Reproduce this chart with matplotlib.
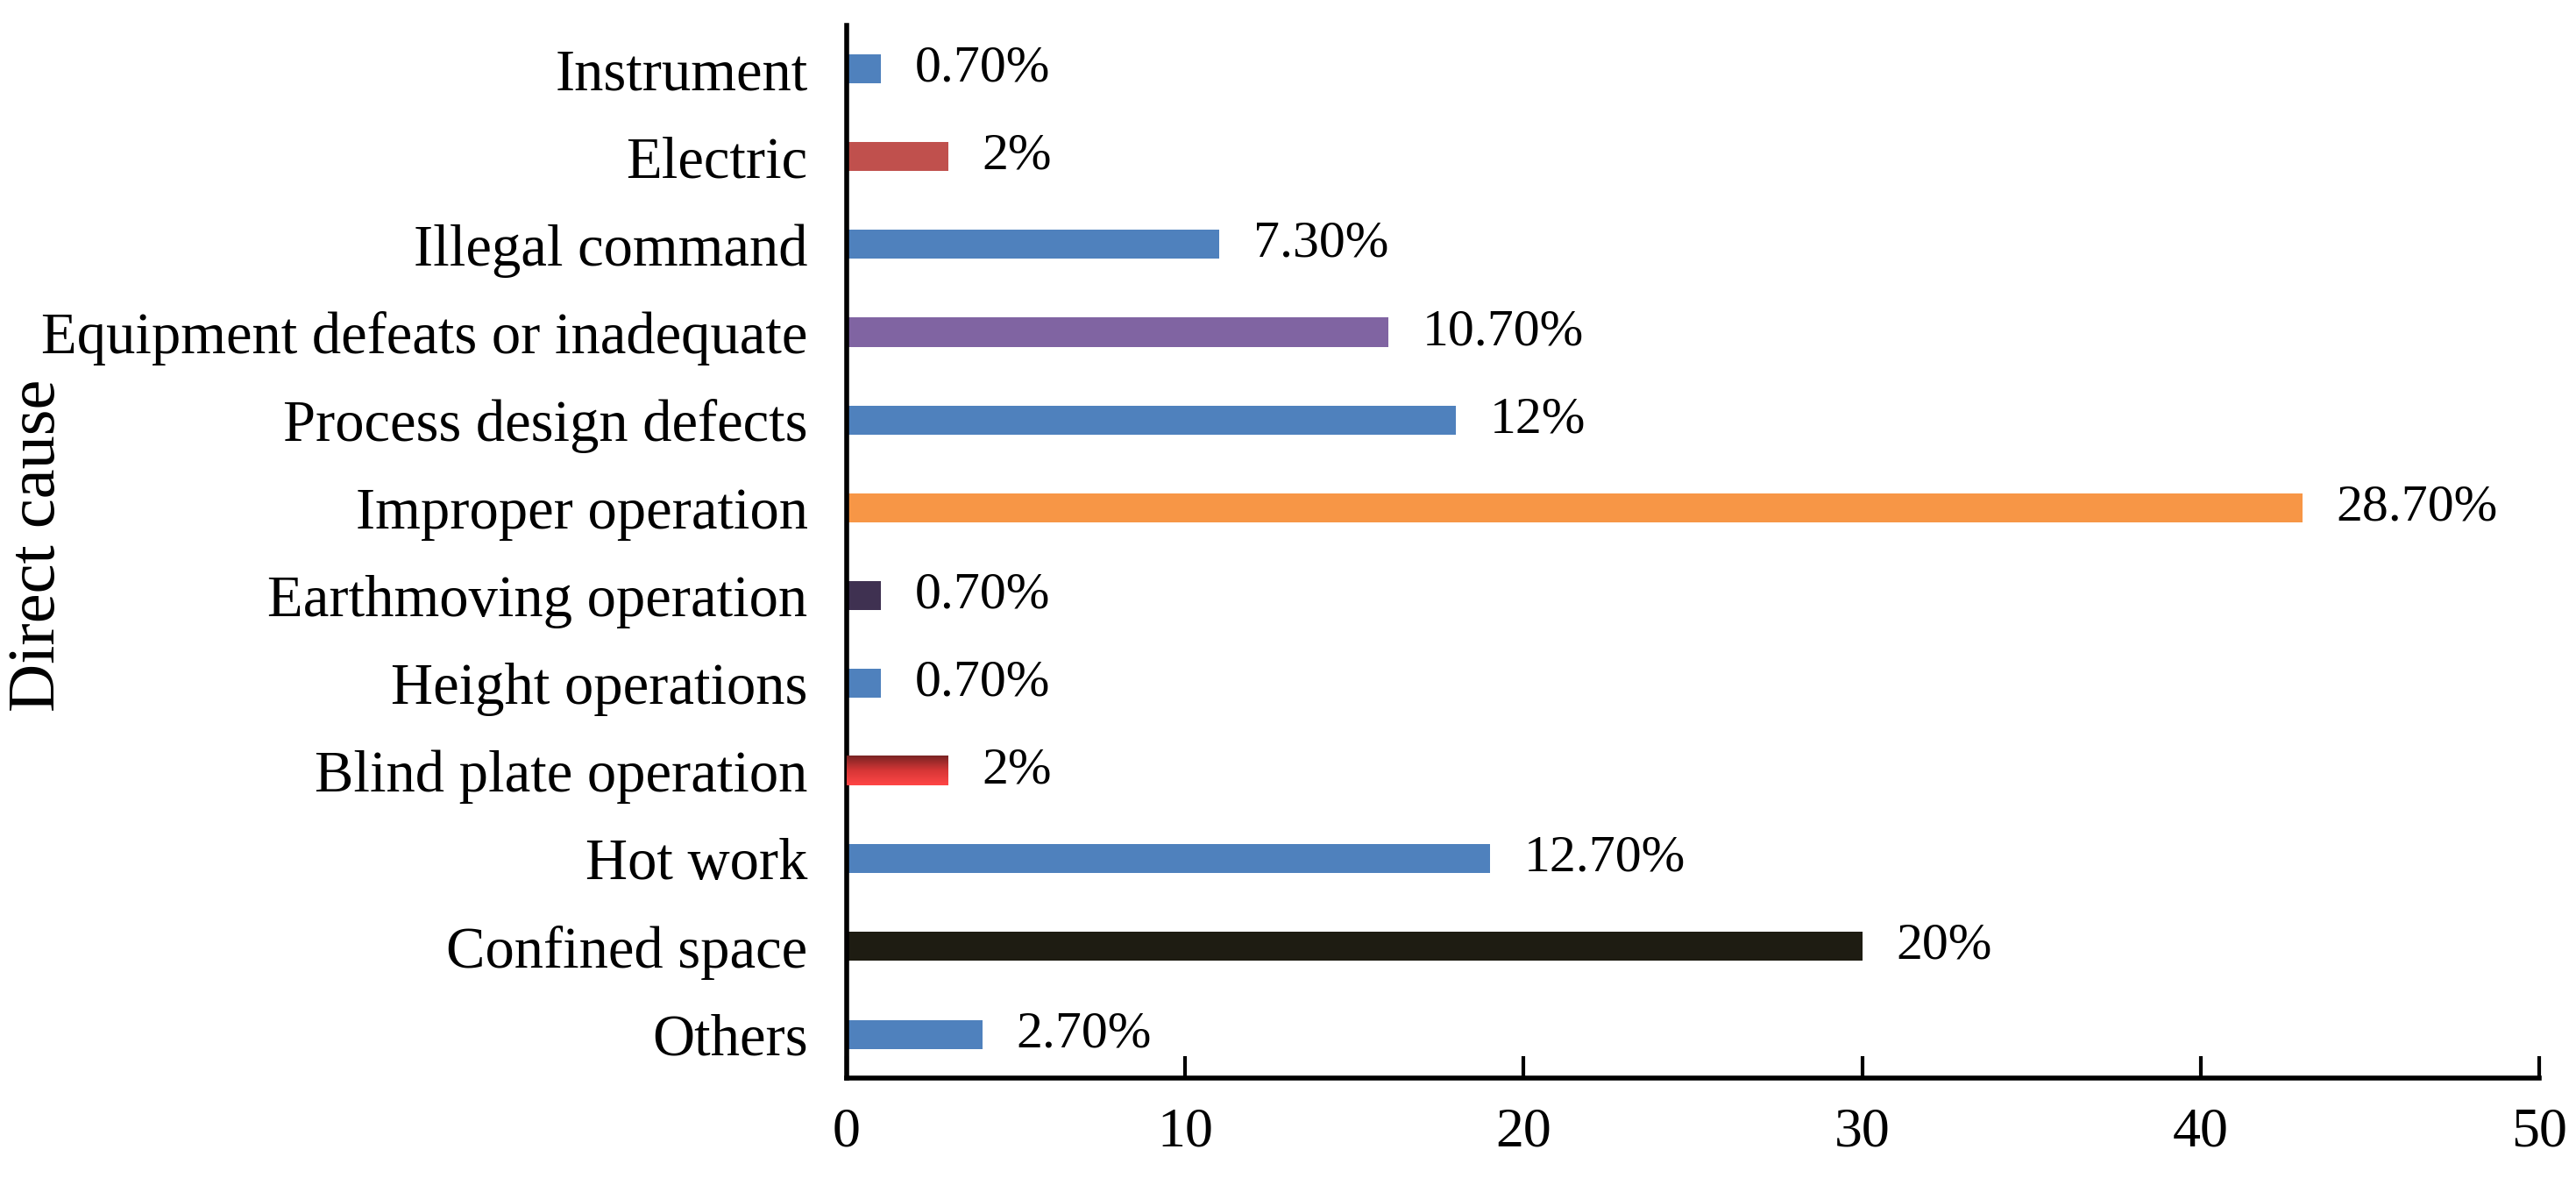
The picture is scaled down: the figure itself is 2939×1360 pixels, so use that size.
import matplotlib
matplotlib.use('Agg')
import matplotlib.pyplot as plt
import numpy as np
from matplotlib.colors import LinearSegmentedColormap

causes = ['Instrument', 'Electric', 'Illegal command', 'Equipment defeats or inadequate',
          'Process design defects', 'Improper operation', 'Earthmoving operation',
          'Height operations', 'Blind plate operation', 'Hot work', 'Confined space', 'Others']
counts = [1, 3, 11, 16, 18, 43, 1, 1, 3, 19, 30, 4]
pct_labels = ['0.70%', '2%', '7.30%', '10.70%', '12%', '28.70%', '0.70%', '0.70%',
              '2%', '12.70%', '20%', '2.70%']
colors = ['#4F81BD', '#C0504D', '#4F81BD', '#8064A2', '#4F81BD', '#F79646', '#3F3151',
          '#4F81BD', '#E8383D', '#4F81BD', '#1E1C12', '#4F81BD']
xticks = [0, 10, 20, 30, 40, 50]

plt.rcParams['font.family'] = ['Liberation Serif', 'DejaVu Serif']

fig = plt.figure(figsize=(29.39, 13.6), dpi=100)
ax = fig.add_axes([0.3287, 0.0955, 0.6570, 0.8835])

ypos = np.arange(len(causes))[::-1]
bars = ax.barh(ypos, counts, height=0.33, color=colors, zorder=2)

# gradient fill for the blind plate bar (dark on top, bright red below)
grad = LinearSegmentedColormap.from_list('g', ['#7A2424', '#D63636', '#FF4646'])
b = bars[8]
bx, by = b.get_x(), b.get_y()
bw, bh = b.get_width(), b.get_height()
b.set_visible(False)
ax.imshow(np.linspace(0, 1, 100).reshape(-1, 1), cmap=grad, aspect='auto',
          extent=(bx, bx + bw, by, by + bh), origin='upper', zorder=3)

for bar, lab in zip(bars, pct_labels):
    ax.annotate(lab, (bar.get_width(), bar.get_y() + bar.get_height() / 2),
                xytext=(28, 0), textcoords='offset points', va='center', ha='left',
                fontsize=43)

ax.set_xlim(0, 50)
ax.set_ylim(-0.5, 11.5)
ax.set_xticks(xticks)
ax.set_yticks(ypos)
ax.set_yticklabels(causes)
ax.tick_params(axis='x', direction='in', length=18, width=3, labelsize=46, pad=24)
ax.tick_params(axis='y', length=0, labelsize=48, pad=32)
for s in ['top', 'right']:
    ax.spines[s].set_visible(False)
for s in ['left', 'bottom']:
    ax.spines[s].set_linewidth(4)

ax.set_ylabel('Direct cause', fontsize=55)
ax.yaxis.set_label_coords(-0.46, 0.506)

plt.savefig('out.png', dpi=100)
